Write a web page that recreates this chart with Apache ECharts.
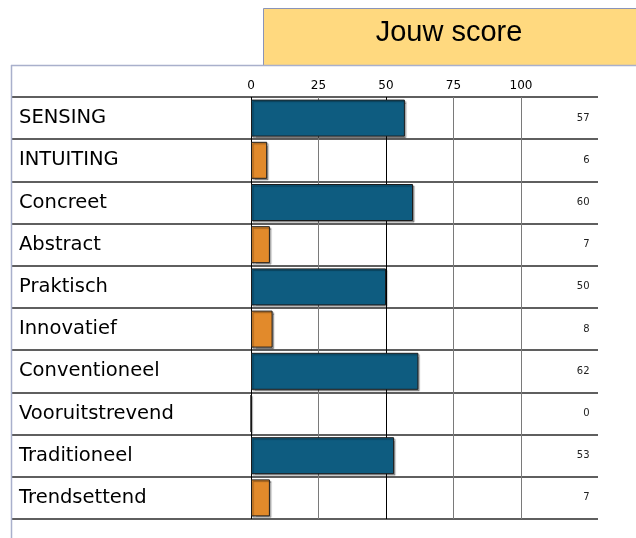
<!DOCTYPE html>
<html>
<head>
<meta charset="utf-8">
<script src="https://cdn.jsdelivr.net/npm/echarts@6/dist/echarts.min.js"></script>
<style>html,body{margin:0;padding:0;background:#fff}#c{width:636px;height:538px}</style>
</head>
<body>
<div id="c"></div>
<script>
const categories = ['SENSING','INTUITING','Concreet','Abstract','Praktisch','Innovatief','Conventioneel','Vooruitstrevend','Traditioneel','Trendsettend'];
const scores = [57, 6, 60, 7, 50, 8, 62, 0, 53, 7];
const tickValues = [0, 25, 50, 75, 100];
const headerTitle = 'Jouw score';

const chart = echarts.init(document.getElementById('c'), null, {renderer: 'canvas'});
const FONT = '"Liberation Sans", Arial, sans-serif';
const FONT2 = '"DejaVu Sans", sans-serif';
const TOP = 97, BOTTOM = 538 - 519;

chart.setOption({
  animation: false,
  backgroundColor: '#ffffff',
  graphic: [
    {type: 'rect', shape: {x: 263.5, y: 8.5, width: 380, height: 57}, style: {fill: '#FFD97F', stroke: '#8A94B8', lineWidth: 1}, z: 1},
    {type: 'text', x: 449, y: 33, style: {text: headerTitle, font: '29px ' + FONT, fill: '#000', align: 'center', verticalAlign: 'middle'}, z: 2},
    {type: 'line', shape: {x1: 11.5, y1: 65, x2: 11.5, y2: 538}, style: {stroke: '#A9B0CC', lineWidth: 1.5}, z: 3},
    {type: 'line', shape: {x1: 11, y1: 65.5, x2: 636, y2: 65.5}, style: {stroke: '#A9B0CC', lineWidth: 1.5}, z: 3}
  ],
  grid: [
    {left: 251, width: 270, top: TOP, bottom: BOTTOM, containLabel: false},
    {left: 12, right: 636 - 598, top: TOP, bottom: BOTTOM, containLabel: false}
  ],
  xAxis: [
    {
      type: 'value', gridIndex: 0, position: 'top', min: 0, max: 100, interval: 25,
      axisLine: {show: false}, axisTick: {show: false},
      axisLabel: {fontSize: 12, color: '#000', fontFamily: FONT2, margin: 5,
        formatter: v => tickValues.indexOf(v) >= 0 ? String(v) : ''},
      splitLine: {show: true, lineStyle: {color: ['#000000', '#7a7a7a', '#000000', '#7a7a7a', '#7a7a7a'], width: 1}},
      z: 2
    },
    {type: 'value', gridIndex: 1, show: false, min: 0, max: 1}
  ],
  yAxis: [
    {type: 'category', gridIndex: 0, data: categories, inverse: true, show: false},
    {
      type: 'category', gridIndex: 1, data: categories, inverse: true, position: 'left',
      axisLine: {show: false}, axisTick: {show: false},
      axisLabel: {inside: true, margin: 7, fontSize: 19.5, color: '#000', fontFamily: FONT2, align: 'left', padding: [0, 0, 4, 0]},
      splitLine: {show: true, lineStyle: {color: '#2a2a2a', width: 1.5}}
    },
    {
      type: 'category', gridIndex: 1, data: scores.map(String), inverse: true, position: 'right',
      axisLine: {show: false}, axisTick: {show: false},
      axisLabel: {inside: true, margin: 8.5, fontSize: 10, color: '#222', fontFamily: FONT2, align: 'right', padding: [2, 0, 0, 0]},
      splitLine: {show: false}
    }
  ],
  series: [
    {
      type: 'bar', xAxisIndex: 0, yAxisIndex: 0, data: scores, barWidth: 37,
      itemStyle: {
        color: p => (p.dataIndex % 2 === 0 ? '#0E5C80' : '#E28A2B'),
        borderColor: '#1c1c1c', borderWidth: 1,
        shadowColor: 'rgba(0,0,0,0.35)', shadowOffsetX: 1.5, shadowOffsetY: 1.5, shadowBlur: 1
      },
      z: 3
    }
  ]
});
</script>
</body>
</html>
